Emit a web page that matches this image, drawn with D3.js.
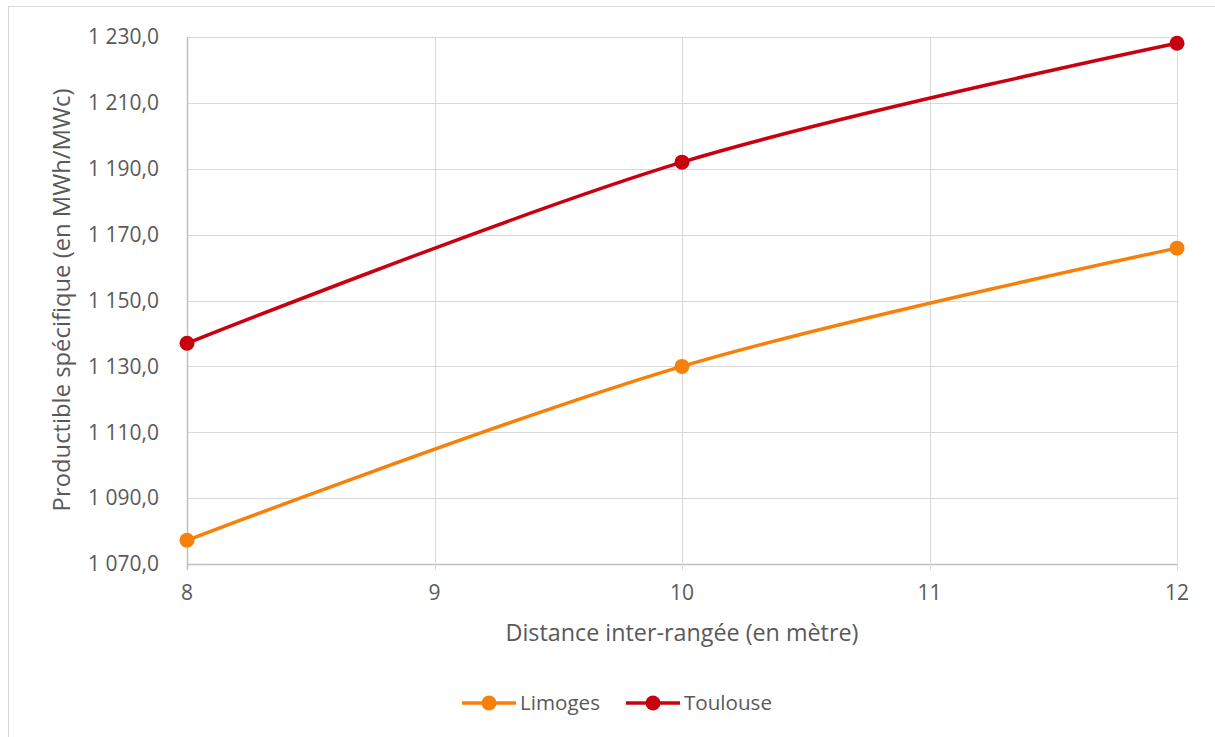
<!DOCTYPE html>
<html><head><meta charset="utf-8">
<script src="https://cdn.jsdelivr.net/npm/d3@7"></script>
<style>html,body{margin:0;padding:0;background:#fff;}svg{display:block;font-family:"Open Sans",Lato,sans-serif;}</style>
</head><body><svg id="c" width="1215" height="737"></svg>
<script>
const distances = [8, 10, 12];
const limoges = [1077.2, 1130.0, 1165.9];
const toulouse = [1137.0, 1192.0, 1228.1];
const yTicks = [1070, 1090, 1110, 1130, 1150, 1170, 1190, 1210, 1230];
const xTicks = [8, 9, 10, 11, 12];
const seriesNames = ["Limoges", "Toulouse"];
const seriesColors = ["#F7800B", "#C8000F"];

const svg = d3.select("#c");
svg.append("rect").attr("x",8.5).attr("y",6.5).attr("width",1220).attr("height",740)
  .attr("fill","#fff").attr("stroke","#d9d9d9").attr("stroke-width",1);

const x = d3.scaleLinear().domain([8,12]).range([187,1177]);
const y = d3.scaleLinear().domain([1070,1230]).range([564,37]);

function fitSize(sample, target){
  const t = svg.append("text").attr("font-size",20).text(sample);
  const w = t.node().getComputedTextLength(); t.remove();
  return 20*target/w;
}
const tickSize = fitSize("1 230,0", 71);
const xTitleSize = fitSize("Distance inter-rangée (en mètre)", 353);
const yTitleSize = fitSize("Productible spécifique (en MWh/MWc)", 423);
const legSize = fitSize("Limoges", 80);

const g = svg.append("g");
g.selectAll(".hg").data(yTicks).join("line")
  .attr("x1",x(8)).attr("x2",x(12)).attr("y1",d=>Math.round(y(d))+0.5).attr("y2",d=>Math.round(y(d))+0.5)
  .attr("stroke",d=>d===1070?"#bfbfbf":"#d9d9d9").attr("stroke-width",d=>d===1070?1.5:1);
g.selectAll(".vg").data(xTicks).join("line")
  .attr("x1",d=>Math.round(x(d))+0.5).attr("x2",d=>Math.round(x(d))+0.5)
  .attr("y1",y(1230)).attr("y2",y(1070)+6)
  .attr("stroke",d=>d===8?"#bfbfbf":"#d9d9d9").attr("stroke-width",d=>d===8?1.5:1);

const fmt = v => { const s = v.toFixed(1).replace(".", ","); const [i,dec]=s.split(","); return i.replace(/\B(?=(\d{3})+(?!\d))/g," ")+","+dec; };
g.selectAll(".yl").data(yTicks).join("text")
  .attr("x",159).attr("y",d=>y(d)).attr("dy","0.35em").attr("text-anchor","end")
  .attr("font-size",tickSize).attr("fill","#595959").text(fmt);
g.selectAll(".xl").data(xTicks).join("text")
  .attr("x",d=>x(d)).attr("y",593).attr("dy","0.35em").attr("text-anchor","middle")
  .attr("font-size",tickSize).attr("fill","#595959").text(d=>d);

svg.append("text").attr("x",682).attr("y",633).attr("dy","0.35em").attr("text-anchor","middle")
  .attr("font-size",xTitleSize).attr("fill","#595959").text("Distance inter-rangée (en mètre)");
svg.append("text").attr("transform","translate(62,300) rotate(-90)").attr("dy","0.35em").attr("text-anchor","middle")
  .attr("font-size",yTitleSize).attr("fill","#595959").text("Productible spécifique (en MWh/MWc)");

const line = d3.line().x(d=>x(d[0])).y(d=>y(d[1])).curve(d3.curveCardinal.tension(0));
[limoges, toulouse].forEach((vals,i)=>{
  const pts = distances.map((d,j)=>[d, vals[j]]);
  g.append("path").attr("d",line(pts)).attr("fill","none").attr("stroke",seriesColors[i]).attr("stroke-width",3.5);
  g.selectAll(".p"+i).data(pts).join("circle").attr("cx",d=>x(d[0])).attr("cy",d=>y(d[1])).attr("r",7.5)
    .attr("fill",seriesColors[i]);
});

const legX = [462, 626];
seriesNames.forEach((n,i)=>{
  const lg = svg.append("g").attr("transform",`translate(${legX[i]},703)`);
  lg.append("line").attr("x1",0).attr("x2",54).attr("stroke",seriesColors[i]).attr("stroke-width",3.5);
  lg.append("circle").attr("cx",27).attr("r",7.5).attr("fill",seriesColors[i]);
  lg.append("text").attr("x",58).attr("dy","0.35em").attr("font-size",legSize).attr("fill","#595959").text(n);
});
</script></body></html>
